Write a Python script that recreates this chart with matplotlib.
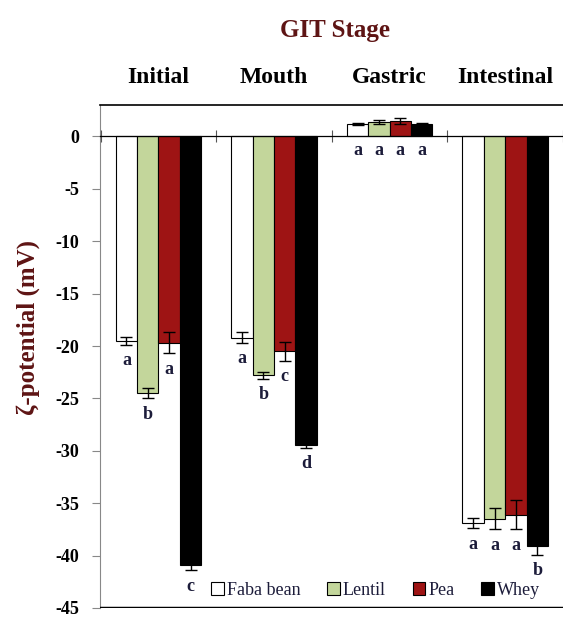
import numpy as np
import matplotlib.pyplot as plt
from matplotlib.patches import Patch

stages = ['Initial', 'Mouth', 'Gastric', 'Intestinal']
proteins = ['Faba bean', 'Lentil', 'Pea', 'Whey']
colors = ['white', '#c3d69b', '#9e1414', 'black']

faba = [-19.5, -19.2, 1.2, -36.9]
lentil = [-24.5, -22.8, 1.4, -36.5]
pea = [-19.7, -20.5, 1.5, -36.1]
whey = [-40.9, -29.4, 1.2, -39.1]

faba_err = [0.4, 0.5, 0.1, 0.5]
lentil_err = [0.5, 0.3, 0.2, 1.0]
pea_err = [1.0, 0.9, 0.3, 1.4]
whey_err = [0.5, 0.3, 0.1, 0.8]

faba_let = ['a', 'a', 'a', 'a']
lentil_let = ['b', 'b', 'a', 'a']
pea_let = ['a', 'c', 'a', 'a']
whey_let = ['c', 'd', 'a', 'b']

values = [faba, lentil, pea, whey]
errors = [faba_err, lentil_err, pea_err, whey_err]
letters = [faba_let, lentil_let, pea_let, whey_let]

serif = ['Liberation Serif', 'DejaVu Serif']
plt.rcParams['font.family'] = serif
title_col = '#5e1414'
text_col = '#1c1c3a'

fig = plt.figure(figsize=(5.63, 6.17), dpi=100)
ax = fig.add_axes([0.1776, 0.0146, 0.8224, 0.8152])

x = np.arange(len(stages))
w = 0.185
for i in range(4):
    pos = x + (i - 1.5) * w
    ax.bar(pos, values[i], w, color=colors[i], edgecolor='black', linewidth=0.8,
           yerr=errors[i], error_kw=dict(ecolor='black', elinewidth=1, capsize=4, capthick=1),
           zorder=2)
    for j in range(len(stages)):
        v = values[i][j]
        if v < 0:
            ly = v - errors[i][j] - 0.7
        else:
            ly = -0.5
        ax.text(pos[j], ly, letters[i][j], ha='center', va='top', fontsize=13,
                fontweight='bold', color=text_col)

ax.set_xlim(-0.506, 3.434)
ax.set_ylim(-45, 3)
ax.set_yticks(np.arange(-45, 1, 5))
ax.set_yticklabels([str(t) for t in np.arange(-45, 1, 5)], fontsize=13, fontweight='bold')
ax.tick_params(axis='y', direction='out', length=6, width=0.8, colors='#888888',
               labelcolor='black', pad=9)

ax.spines['right'].set_visible(False)
ax.spines['left'].set_color('#888888')
ax.spines['bottom'].set_position(('data', 0))
ax.spines['bottom'].set_linewidth(0.9)
ax.spines['top'].set_linewidth(1.2)
ax.set_xticks(np.arange(-0.5, 3.6, 1.0))
ax.set_xticklabels([])
ax.tick_params(axis='x', direction='inout', length=8, width=0.8, colors='#555555')
ax.axhline(-45, color='black', linewidth=2.5, zorder=3)

for j, s in enumerate(stages):
    ax.text(x[j], 1.054, s, transform=ax.get_xaxis_transform(), ha='center', va='center',
            fontsize=17, fontweight='bold', color='black')
ax.text(1.53, 1.149, 'GIT Stage', transform=ax.get_xaxis_transform(), ha='center',
        va='center', fontsize=18, fontweight='bold', color=title_col)

ax.set_ylabel('ζ-potential (mV)', fontsize=18, fontweight='bold', color=title_col)
ax.yaxis.set_label_coords(-0.13, 0.557)

handles = [Patch(facecolor=c, edgecolor='black', linewidth=0.8) for c in colors]
leg = ax.legend(handles, proteins, ncol=4, loc='lower right', bbox_to_anchor=(0.985, -0.014),
                frameon=False, handlelength=0.7, handleheight=0.7, handletextpad=0.15,
                columnspacing=1.5, prop={'size': 13})
for t in leg.get_texts():
    t.set_color(text_col)

fig.savefig('out.png', dpi=100)
